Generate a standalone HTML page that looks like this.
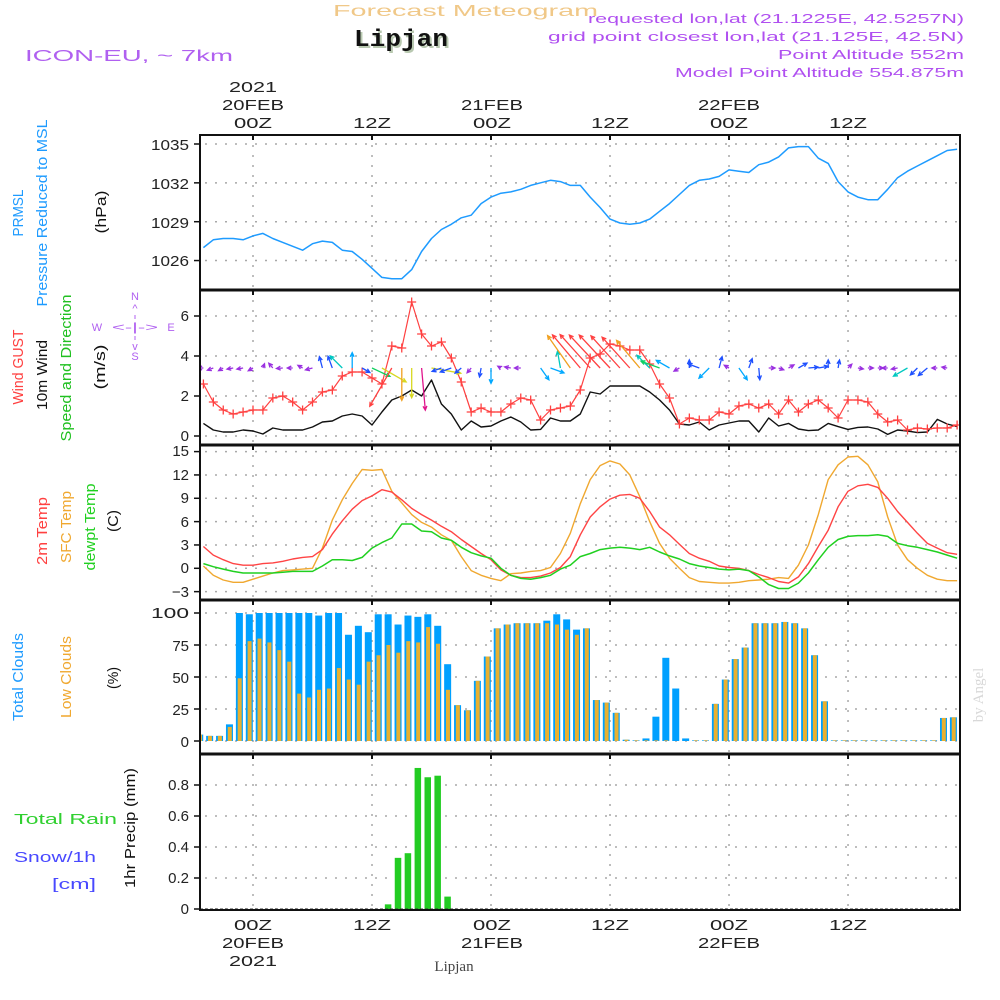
<!DOCTYPE html>
<html><head><meta charset="utf-8"><title>Forecast Meteogram Lipjan</title>
<style>
html,body{margin:0;padding:0;background:#fff;}
svg{display:block;font-family:"Liberation Sans",sans-serif;}
</style></head>
<body>
<svg id="chart" width="1000" height="1000" viewBox="0 0 1000 1000" xmlns="http://www.w3.org/2000/svg">
<rect width="1000" height="1000" fill="#fff"/>
<!-- header -->
<text x="333" y="16" textLength="265" font-size="16" fill="#f0c888">Forecast Meteogram</text>
<text x="356" y="48" font-family="Liberation Mono, monospace" font-weight="bold" font-size="24" fill="#b8c8b0" textLength="94">Lipjan</text>
<text x="354" y="46" font-family="Liberation Mono, monospace" font-weight="bold" font-size="24" fill="#111" textLength="94">Lipjan</text>
<text x="25" y="61" font-size="16" fill="#b060f0" textLength="208">ICON-EU, ~ 7km</text>
<g font-size="13" fill="#b050f0">
<text x="588" y="23" textLength="376">requested lon,lat (21.1225E, 42.5257N)</text>
<text x="548" y="41" textLength="416">grid point closest lon,lat (21.125E, 42.5N)</text>
<text x="778" y="59" textLength="186">Point Altitude 552m</text>
<text x="675" y="77" textLength="289">Model Point Altitude 554.875m</text>
</g>
<!-- top time labels -->
<g font-size="15" fill="#222" text-anchor="middle">
<text x="253" y="92" textLength="48">2021</text>
<text x="253" y="110" textLength="62">20FEB</text>
<text x="253" y="128" textLength="38">00Z</text>
<text x="372" y="128" textLength="38">12Z</text>
<text x="492" y="110" textLength="62">21FEB</text>
<text x="492" y="128" textLength="38">00Z</text>
<text x="610" y="128" textLength="38">12Z</text>
<text x="729" y="110" textLength="62">22FEB</text>
<text x="729" y="128" textLength="38">00Z</text>
<text x="848" y="128" textLength="38">12Z</text>
</g>
<!-- bottom time labels -->
<g font-size="15" fill="#222" text-anchor="middle">
<text x="253" y="930" textLength="38">00Z</text>
<text x="372" y="930" textLength="38">12Z</text>
<text x="492" y="930" textLength="38">00Z</text>
<text x="610" y="930" textLength="38">12Z</text>
<text x="729" y="930" textLength="38">00Z</text>
<text x="848" y="930" textLength="38">12Z</text>
<text x="253" y="948" textLength="62">20FEB</text>
<text x="492" y="948" textLength="62">21FEB</text>
<text x="729" y="948" textLength="62">22FEB</text>
<text x="253" y="966" textLength="48">2021</text>
</g>
<text x="454" y="971" text-anchor="middle" font-family="Liberation Serif, serif" font-size="15" fill="#444">Lipjan</text>
<text transform="translate(983,695) rotate(-90)" text-anchor="middle" font-family="Liberation Serif, serif" font-size="15" fill="#d8d8d8">by Angel</text>

<!-- left rotated labels -->
<g font-size="15" text-anchor="middle">
<text transform="translate(23,213) rotate(-90)" fill="#1e9bff" textLength="47">PRMSL</text>
<text transform="translate(47,213) rotate(-90)" fill="#1e9bff" textLength="187">Pressure Reduced to MSL</text>
<text transform="translate(106,212) rotate(-90)" fill="#111" textLength="43">(hPa)</text>
<text transform="translate(23,367) rotate(-90)" fill="#ff4040" textLength="75">Wind GUST</text>
<text transform="translate(47,375) rotate(-90)" fill="#111" textLength="70">10m Wind</text>
<text transform="translate(71,368) rotate(-90)" fill="#20c020" textLength="147">Speed and Direction</text>
<text transform="translate(105,367) rotate(-90)" fill="#111" textLength="45">(m/s)</text>
<text transform="translate(47,531) rotate(-90)" fill="#ff4040" textLength="68">2m Temp</text>
<text transform="translate(71,527) rotate(-90)" fill="#f0a830" textLength="72">SFC Temp</text>
<text transform="translate(95,527) rotate(-90)" fill="#20d020" textLength="87">dewpt Temp</text>
<text transform="translate(118,521) rotate(-90)" fill="#111" textLength="22">(C)</text>
<text transform="translate(23,677) rotate(-90)" fill="#1e9bff" textLength="88">Total Clouds</text>
<text transform="translate(71,677) rotate(-90)" fill="#f0a830" textLength="82">Low Clouds</text>
<text transform="translate(118,678) rotate(-90)" fill="#111" textLength="22">(%)</text>
<text transform="translate(135,828) rotate(-90)" fill="#111" textLength="120">1hr Precip (mm)</text>
</g>
<text x="14" y="824" font-size="15" fill="#30d030" textLength="103">Total  Rain</text>
<text x="14" y="862" font-size="15" fill="#4848ff" textLength="82">Snow/1h</text>
<text x="52" y="889" font-size="15" fill="#4848ff" textLength="44">[cm]</text>
<!-- compass -->
<g font-size="11" fill="#b060f0" text-anchor="middle">
<text x="135" y="300">N</text>
<text x="135" y="312">^</text>
<text x="97" y="331">W</text>
<text x="135" y="331" textLength="46">&lt;-|-&gt;</text>
<text x="171" y="331">E</text>
<text x="135" y="350">v</text>
<text x="135" y="360">S</text>
<line x1="135" y1="315" x2="135" y2="343" stroke="#b060f0" stroke-width="1" stroke-dasharray="4,3"/>
</g>

<g id="grid"></g>
<g id="marks"></g>

<!-- y tick labels -->
<g font-size="15" fill="#222" text-anchor="end">
<text x="189" y="150" textLength="38">1035</text>
<text x="189" y="189" textLength="38">1032</text>
<text x="189" y="228" textLength="38">1029</text>
<text x="189" y="266" textLength="38">1026</text>
<text x="189" y="321">6</text>
<text x="189" y="361">4</text>
<text x="189" y="401">2</text>
<text x="189" y="441">0</text>
<text x="189" y="456">15</text>
<text x="189" y="480">12</text>
<text x="189" y="503">9</text>
<text x="189" y="527">6</text>
<text x="189" y="550">3</text>
<text x="189" y="573">0</text>
<text x="189" y="597">−3</text>
<text x="189" y="618" textLength="38">100</text>
<text x="189" y="651">75</text>
<text x="189" y="683">50</text>
<text x="189" y="715">25</text>
<text x="189" y="747">0</text>
<text x="189" y="790">0.8</text>
<text x="189" y="821">0.6</text>
<text x="189" y="852">0.4</text>
<text x="189" y="883">0.2</text>
<text x="189" y="914">0</text>
</g>
<g id="frame" stroke="#111" fill="none">
<rect x="200" y="135" width="760" height="775" stroke-width="2"/>
<line x1="200" y1="290" x2="960" y2="290" stroke-width="3"/>
<line x1="200" y1="445" x2="960" y2="445" stroke-width="3"/>
<line x1="200" y1="600" x2="960" y2="600" stroke-width="3"/>
<line x1="200" y1="754" x2="960" y2="754" stroke-width="3"/>
</g>
</svg>
<script>
// hours from -5 to 71 relative to 00Z 20FEB
const hourStart = -5;
const pressure = [1027.0,1027.6,1027.7,1027.7,1027.6,1027.9,1028.1,1027.7,1027.4,1027.1,1026.8,1027.3,1027.5,1027.4,1026.8,1026.7,1026.1,1025.4,1024.7,1024.6,1024.6,1025.3,1026.7,1027.7,1028.4,1028.8,1029.3,1029.5,1030.4,1030.9,1031.2,1031.3,1031.5,1031.8,1032.0,1032.2,1032.1,1031.8,1031.8,1030.9,1030.1,1029.2,1028.9,1028.8,1028.9,1029.2,1029.8,1030.4,1031.1,1031.8,1032.2,1032.3,1032.5,1033.0,1032.9,1032.8,1033.4,1033.6,1034.0,1034.7,1034.8,1034.8,1033.9,1033.5,1032.1,1031.3,1030.9,1030.7,1030.7,1031.5,1032.4,1032.9,1033.3,1033.7,1034.1,1034.5,1034.6];
const windGust = [2.6,1.7,1.3,1.1,1.2,1.3,1.3,1.9,2.0,1.7,1.3,1.7,2.2,2.3,3.0,3.2,3.2,2.9,2.6,4.5,4.4,6.7,5.1,4.5,4.7,3.9,2.7,1.2,1.4,1.2,1.2,1.6,1.9,1.8,0.8,1.3,1.4,1.5,2.3,3.9,4.1,4.6,4.5,4.3,4.3,3.6,2.6,1.9,0.6,0.9,0.8,0.8,1.2,1.1,1.5,1.6,1.4,1.6,1.1,1.8,1.2,1.6,1.8,1.4,0.9,1.8,1.8,1.7,1.1,0.7,0.8,0.3,0.4,0.35,0.4,0.4,0.55];
const wind10m = [0.63,0.3,0.2,0.2,0.3,0.25,0.1,0.4,0.3,0.3,0.3,0.45,0.7,0.75,1.0,1.1,1.0,0.55,1.2,1.8,2.0,2.3,2.0,2.8,1.6,1.1,0.3,0.75,0.45,0.5,0.75,0.95,0.7,0.3,0.33,0.9,0.75,0.75,1.1,2.2,2.1,2.5,2.5,2.5,2.5,2.2,1.8,1.3,0.6,0.55,0.7,0.3,0.55,0.65,0.75,0.75,0.2,0.9,0.5,0.63,0.35,0.27,0.3,0.63,0.47,0.33,0.43,0.45,0.35,0.08,0.3,0.25,0.17,0.2,0.83,0.6,0.47];
// wind arrow: direction the wind blows toward (deg clockwise from north) and arrow speed
const windDir = [270,250,240,260,260,240,20,320,265,270,300,255,345,340,315,0,120,115,120,210,180,180,175,100,250,250,230,220,190,180,300,280,270,0,145,110,350,325,320,318,317,317,318,318,320,315,290,300,240,0,290,225,15,300,145,20,175,90,110,60,60,85,80,0,10,45,100,90,90,270,260,240,225,230,270,280,0];
const windSpd = [0.6,0.7,0.6,0.7,0.7,0.6,0.5,0.7,0.7,0.6,0.6,0.8,1.3,1.4,1.9,1.7,1.0,2.2,3.1,4.9,3.6,3.3,4.7,3.3,1.1,1.3,0.9,0.7,1.0,1.7,0.4,0.7,0.7,0,1.6,1.6,1.9,4.4,4.8,5.0,5.0,5.0,4.8,4.6,4.0,2.0,2.2,1.7,0.7,0.9,1.3,1.6,1.3,0.6,1.6,1.1,1.3,0.7,0.6,0.7,1.1,1.1,1.1,0.9,0.9,0.6,0.6,0.6,0.6,0.6,0.7,1.8,1.1,1.3,0.6,0.6,0];
const temp2m = [2.8,1.7,1.1,0.6,0.4,0.4,0.6,0.7,0.9,1.2,1.4,1.5,2.4,4.4,6.1,7.6,8.7,9.3,10.1,9.8,8.8,7.7,6.9,6.2,5.4,4.7,3.7,2.8,1.9,1.1,-0.2,-0.9,-1.2,-1.2,-1.0,-0.6,0.1,1.5,4.3,6.6,7.9,8.9,9.4,9.5,9.0,7.3,5.3,4.3,3.1,1.9,1.3,0.9,0.3,0.1,0,-0.3,-0.8,-1.2,-1.7,-1.9,-1.1,0.6,2.8,4.9,7.9,9.9,10.6,10.8,10.4,9.0,7.3,5.9,4.5,3.2,2.6,2.0,1.8];
const tempSfc = [0.3,-0.9,-1.5,-1.8,-1.8,-1.4,-1.0,-0.6,-0.3,-0.2,-0.1,0,2.6,6.2,8.8,10.9,12.7,12.6,12.7,9.9,8.4,6.9,5.9,5.3,4.3,3.6,1.5,-0.3,-0.9,-1.3,-1.6,-0.7,-0.6,-0.4,-0.3,0.1,1.9,4.5,8.3,11.4,13.2,13.8,13.4,12.0,9.2,6.0,3.2,1.3,0,-1.2,-1.7,-1.8,-1.9,-1.9,-1.8,-1.6,-1.5,-1.4,-1.2,-1.3,0.4,3.0,6.9,11.4,13.3,14.3,14.4,13.3,11.1,6.6,3.0,1.1,0,-0.9,-1.4,-1.6,-1.6];
const tempDew = [0.6,0.2,-0.1,-0.4,-0.6,-0.6,-0.6,-0.6,-0.5,-0.4,-0.4,-0.4,0.3,1.1,1.1,1.0,1.4,2.6,3.3,3.9,5.7,5.7,4.8,4.7,3.9,3.6,2.7,2.0,1.6,1.3,0,-0.9,-1.3,-1.4,-1.2,-0.9,-0.1,0.4,1.5,1.9,2.4,2.6,2.7,2.6,2.4,2.7,2.1,1.6,1.2,0.6,0.3,0.1,-0.1,-0.2,-0.1,-0.3,-1.1,-2.1,-2.6,-2.6,-1.9,-0.6,1.1,2.7,3.7,4.1,4.2,4.2,4.3,4.1,3.2,2.9,2.7,2.4,2.1,1.7,1.3];
const totalClouds = [5,4,4,13,100,99,100,100,100,100,100,100,98,100,100,83,90,85,99,99,91,98,97,99,90,60,28,24,47,66,88,91,92,92,92,94,99,95,87,88,32,30,22,1,0.5,2,19,65,41,2,0.5,0.5,29,48,64,73,92,92,92,93,92,88,67,31,0.5,0.5,0.5,0.5,0.5,0.5,0.5,0.5,0.5,0.5,0.5,18,18.5];
const lowClouds = [5,4,4,11,49,78,80,77,71,62,37,34,40,41,57,48,44,62,67,75,69,78,77,89,76,40,28,24,47,66,88,91,92,92,92,92,91,87,83,88,32,30,22,1,0.5,0.5,0.5,0.5,0,0,0.5,0.5,29,48,64,73,92,92,92,93,92,88,67,31,0.5,0.5,0.5,0.5,0.5,0.5,0.5,0.5,0.5,0.5,0.5,18,18.5];
const precip = [0,0,0,0,0,0,0,0,0,0,0,0,0,0,0,0,0,0,0,0.03,0.33,0.36,0.91,0.85,0.86,0.08,0,0,0,0,0,0,0,0,0,0,0,0,0,0,0,0,0,0,0,0,0,0,0,0,0,0,0,0,0,0,0,0,0,0,0,0,0,0,0,0,0,0,0,0,0,0,0,0,0,0,0];
const gridHours = [0,12,24,36,48,60];
const presTicks = [1026,1029,1032,1035];
const windTicks = [0,2,4,6];
const tempTicks = [-3,0,3,6,9,12,15];
const cloudTicks = [0,25,50,75,100];
const precipTicks = [0.2,0.4,0.6,0.8];

document.querySelectorAll('text[textLength]').forEach(function(t){ t.setAttribute('lengthAdjust','spacingAndGlyphs'); });

const NS = 'http://www.w3.org/2000/svg';
function X(h){ return 253 + h*9.917; }
function yP(p){ return 144 + (1035-p)*12.95; }
function yW(v){ return 436 - v*20; }
function yT(t){ return 568.3 - t*7.78; }
function yC(c){ return 741 - c*1.28; }
function yR(r){ return 909 - r*155; }
function mk(tag, attrs, parent){
  const e = document.createElementNS(NS, tag);
  for (const k in attrs) e.setAttribute(k, attrs[k]);
  parent.appendChild(e);
  return e;
}
const grid = document.getElementById('grid');
const marks = document.getElementById('marks');
const panels = [[135,290],[290,445],[445,600],[600,754],[754,910]];
panels.forEach(function(pn){
  gridHours.forEach(function(h){
    const l = mk('line',{x1:X(h),x2:X(h),y1:pn[0],y2:pn[1],stroke:'#a8a8a8','stroke-width':1.5,'stroke-dasharray':'2,8'},grid);
    
    
    const t = mk('line',{x1:X(h),x2:X(h),y1:pn[0],y2:pn[0]+5,stroke:'#111','stroke-width':2},grid);
    
    
  });
});
function hgrid(vals, fy){
  vals.forEach(function(v){
    const y = fy(v);
    const l = mk('line',{x1:205,x2:958,y1:y,y2:y,stroke:'#a8a8a8','stroke-width':1.5,'stroke-dasharray':'2,8'},grid);
    
    
    const t = mk('line',{x1:194,x2:200,y1:y,y2:y,stroke:'#111','stroke-width':1.5},grid);
    
    
  });
}
hgrid(presTicks,yP); hgrid(windTicks,yW); hgrid(tempTicks,yT); hgrid(cloudTicks,yC); hgrid(precipTicks.concat([0]),yR);

function line(arr, fy, color, name, w){
  let d = '';
  arr.forEach(function(v,i){ d += (i?'L':'M') + X(hourStart+i).toFixed(1) + ' ' + fy(v).toFixed(1); });
  const p = mk('path',{d:d,fill:'none',stroke:color,'stroke-width':w||1.4,'stroke-linejoin':'round'},marks);
  
  
  return p;
}
const clip = mk('clipPath',{id:'plotclip'},document.getElementById('chart'));
mk('rect',{x:200,y:135,width:760,height:775},clip);
marks.setAttribute('clip-path','url(#plotclip)');

line(pressure, yP, '#1e9bff', 'pressure-line', 1.5);
line(wind10m, yW, '#111', 'wind-10m-line', 1.4);
line(windGust, yW, '#ff4040', 'wind-gust-line', 1.2);
windGust.forEach(function(v,i){
  const x = X(hourStart+i), y = yW(v);
  const g = mk('path',{d:'M'+(x-4.5)+' '+y+'H'+(x+4.5)+'M'+x+' '+(y-4.5)+'V'+(y+4.5),stroke:'#ff4040','stroke-width':1.3},marks);
  
  
});
function arrowColor(s){
  if (s < 0.9) return '#9a30e0';
  if (s < 1.5) return '#1e50ff';
  if (s < 1.8) return '#00a8ff';
  if (s < 2.1) return '#00c8c0';
  if (s < 2.5) return '#10d060';
  if (s < 3.4) return '#d8d820';
  if (s < 4.5) return '#f0a020';
  return '#ff4040';
}
windDir.forEach(function(dir,i){
  const s = windSpd[i];
  if (!s) return;
  const len = s*9, a = dir*Math.PI/180;
  const x0 = X(hourStart+i), y0 = 368;
  const x1 = x0 + len*Math.sin(a), y1 = y0 - len*Math.cos(a);
  const hl = 4.5, b1 = a + Math.PI - 0.45, b2 = a + Math.PI + 0.45;
  const d = 'M'+x0.toFixed(1)+' '+y0+'L'+x1.toFixed(1)+' '+y1.toFixed(1)+
    'M'+(x1+hl*Math.sin(b1)).toFixed(1)+' '+(y1-hl*Math.cos(b1)).toFixed(1)+'L'+x1.toFixed(1)+' '+y1.toFixed(1)+
    'L'+(x1+hl*Math.sin(b2)).toFixed(1)+' '+(y1-hl*Math.cos(b2)).toFixed(1);
  const p = mk('path',{d:d,fill:'none',stroke:(i===22?'#e0148c':arrowColor(s)),'stroke-width':1.3},marks);
  
  
});
line(tempSfc, yT, '#f0a830', 'sfc-temp-line', 1.4);
line(temp2m, yT, '#ff4444', 'temp-2m-line', 1.4);
line(tempDew, yT, '#20d020', 'dewpt-temp-line', 1.5);
totalClouds.forEach(function(v,i){
  const xr = X(hourStart+i);
  const b = mk('rect',{x:xr-7.2,y:yC(v),width:7,height:Math.max(0,741-yC(v)),fill:'#00a0ff'},marks);
  
  
  const lv = lowClouds[i];
  const o = mk('rect',{x:xr-5.4,y:yC(lv),width:4,height:Math.max(0,741-yC(lv)),fill:'#e8b030'},marks);
  
  
});
precip.forEach(function(v,i){
  if (!v) return;
  const xr = X(hourStart+i);
  const b = mk('rect',{x:xr-7,y:yR(v),width:6.5,height:909-yR(v),fill:'#22cc22'},marks);
  
  
});
const zl = mk('line',{x1:200,x2:960,y1:909,y2:909,stroke:'#333','stroke-width':1,'stroke-dasharray':'3,2'},marks);


</script>
</body></html>
